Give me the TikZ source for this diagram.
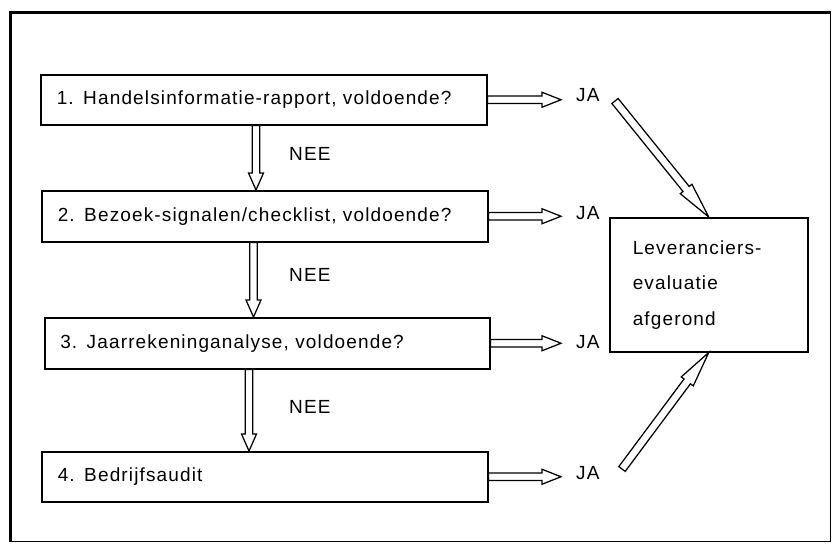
\documentclass[tikz,border=0pt]{standalone}
\usepackage{fontspec}
\setmainfont[LetterSpace=6]{Liberation Sans}
\usetikzlibrary{calc}

\tikzset{
  txt/.style={font=\fontsize{19}{23}\selectfont},
  stepbox/.style={draw, line width=1.5pt, anchor=north west, minimum width=446pt,
    minimum height=50pt, inner xsep=16pt, text width=414pt, align=left, txt},
  resultbox/.style={draw, line width=1.5pt, anchor=north west, minimum width=198pt,
    minimum height=134pt, inner xsep=23pt, text width=152pt, align=left,
    font=\fontsize{19}{35.5}\selectfont},
  lbl/.style={inner sep=0pt, anchor=west, txt},
  arrowline/.style={draw, line width=1.25pt, line join=miter, fill=white},
}

% Outlined (hollow) arrow: #1 start, #2 tip, #3 half shaft width,
% #4 half head width, #5 head length
\newcommand\hollowarrow[5]{%
  \coordinate (ha-s) at (#1);
  \coordinate (ha-e) at (#2);
  \coordinate (ha-b) at ($(ha-e)!#5!(ha-s)$);
  \path[arrowline] ($(ha-s)!#3!90:(ha-e)$) -- ($(ha-b)!#3!-90:(ha-s)$)
    -- ($(ha-b)!#4!-90:(ha-s)$) -- (ha-e) -- ($(ha-b)!#4!90:(ha-s)$)
    -- ($(ha-b)!#3!90:(ha-s)$) -- ($(ha-s)!#3!-90:(ha-e)$) -- cycle;
}

\begin{document}
\begin{tikzpicture}[x=1pt, y=-1pt]
  \useasboundingbox (0,0) rectangle (832,544);
  % outer frame: heavy on top and left, light on right and bottom
  \draw[line width=1.2pt] (10.5,12) -- (830.5,12) -- (830.5,541.5) -- (10.5,541.5);
  \draw[line width=3pt] (10.5,541.5) -- (10.5,12) -- (830.5,12);

  % the four steps
  \node[stepbox] (b1) at (40,74)  {1. Handelsinformatie-rapport, voldoende?};
  \node[stepbox, minimum height=51pt] (b2) at (41,190) {2. Bezoek-signalen/checklist, voldoende?};
  \node[stepbox, minimum width=445pt, minimum height=51pt, inner xsep=14pt] (b3) at (44,317) {3. Jaarrekeninganalyse, voldoende?};
  \node[stepbox] (b4) at (41,451) {4. Bedrijfsaudit};

  % result
  \node[resultbox] (res) at (609,217) {Leveranciers-\\evaluatie\\afgerond};

  % labels
  \node[lbl] (ja1) at (576,95)  {JA};
  \node[lbl] (ja2) at (576,213) {JA};
  \node[lbl] (ja3) at (576,342) {JA};
  \node[lbl] (ja4) at (576,473) {JA};
  \node[lbl] (nee1) at (289,154) {NEE};
  \node[lbl] (nee2) at (289,275) {NEE};
  \node[lbl] (nee3) at (289,407) {NEE};

  % columns of the downward arrows
  \coordinate (c1) at (256,0);
  \coordinate (c2) at (253.5,0);
  \coordinate (c3) at (249,0);
  % tails of the slanted arrows
  \coordinate (t1) at (615,101);
  \coordinate (t4) at (622,469);

  % NEE arrows
  \hollowarrow{b1.south -| c1}{b2.north -| c1}{3.8pt}{7.5pt}{17pt}
  \hollowarrow{b2.south -| c2}{b3.north -| c2}{3.8pt}{7.5pt}{17pt}
  \hollowarrow{b3.south -| c3}{b4.north -| c3}{3.8pt}{7.5pt}{17pt}

  % JA arrows
  \hollowarrow{b1.east}{[xshift=-15pt]ja1.west |- b1.east}{3.8pt}{7.5pt}{19pt}
  \hollowarrow{b2.east}{[xshift=-15pt]ja2.west |- b2.east}{3.8pt}{7.5pt}{19pt}
  \hollowarrow{b3.east}{[xshift=-15pt]ja3.west |- b3.east}{3.8pt}{7.5pt}{19pt}
  \hollowarrow{b4.east}{[xshift=-15pt]ja4.west |- b4.east}{3.8pt}{7.5pt}{19pt}

  % into the result box
  \hollowarrow{t1}{res.north}{4pt}{7.5pt}{36pt}
  \hollowarrow{t4}{res.south}{4pt}{7.5pt}{36pt}
\end{tikzpicture}
\end{document}
